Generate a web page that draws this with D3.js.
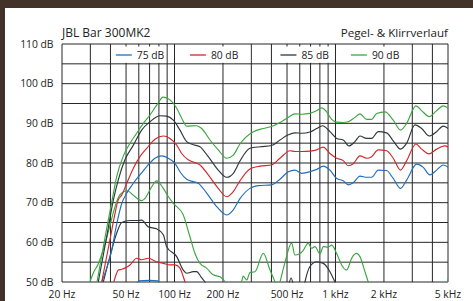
<!DOCTYPE html>
<html><head><meta charset="utf-8">
<script src="https://cdn.jsdelivr.net/npm/d3@7"></script>
<style>
html,body{margin:0;padding:0;background:#fff;}
svg{display:block;}
text{font-family:"Open Sans","Noto Sans",sans-serif;fill:#222;}
</style></head>
<body>
<svg id="chart" width="473" height="301"></svg>
<script>
// ---------- data ----------
const TITLE = "JBL Bar 300MK2";
const SUBTITLE = "Pegel- & Klirrverlauf";
const FREQ_GRID = [20,30,40,50,60,70,80,90,100,200,300,400,500,600,700,800,900,1000,2000,3000,4000,5000];
const FREQ_LABELS = [20,50,100,200,500,1000,2000,5000];
const DB_GRID = [50,55,60,65,70,75,80,85,90,95,100,105,110];
const DB_LABELS = [50,60,70,80,90,100,110];
const SERIES_NAMES = ["75 dB","80 dB","85 dB","90 dB"];
const SERIES_COLORS = ["#1f6fbd","#d3272b","#2e383d","#3ca642"];
// legend boxes (frequency spans of the white label cells)
const LEGEND_SPANS = [[40,90],[100,300],[400,1000],[1000,3000]];

// level response [Hz, dB]
const level75 = [[35.3,50],[37.9,53.5],[40.7,58],[43.7,64.5],[47,69.8],[50.5,72.4],[55.5,74.9],[61,77],[67.2,79.1],[75.6,81.2],[83.2,81.8],[91.5,81.2],[100.7,79.9],[108.1,77.8],[119,75.9],[130.8,75.3],[140.5,74.9],[158.4,72.4],[182.8,69],[210.9,66.9],[231.8,68.2],[255,71],[294,73.6],[331,74.3],[401,74.5],[452,75.9],[509,77.8],[560,78.2],[617,77.4],[694,77.8],[764,78.4],[840,79.2],[924,78.2],[1017,76.1],[1117,75.5],[1200,74.5],[1289,75],[1419,76.7],[1562,76.4],[1677,76.4],[1844,78.2],[2078,78.1],[2284,76.1],[2538,73.6],[2768,75.7],[3194,79.7],[3510,78.9],[3861,77],[4250,78.2],[4670,79.5],[5016,78.9]];
const level80 = [[35.3,50],[39.7,60.6],[42.7,67.3],[44.7,70.7],[47,71.9],[50.5,74.9],[55.5,78.7],[61,81.6],[67.2,83.7],[75.6,86],[85.2,86.8],[93.7,86.2],[103.2,84.5],[110.8,82.4],[121.8,80.8],[134,80.1],[143.9,79.5],[162.1,77],[187,73.6],[210.9,71.5],[231.8,72.8],[255,75.5],[294,78.5],[340,79.2],[401,79.5],[452,81.2],[522,83.1],[560,82.9],[617,82.9],[694,83],[764,83.3],[840,84],[924,82.4],[1017,81.2],[1117,80.6],[1200,79.3],[1289,79.8],[1419,81.8],[1562,81.2],[1677,81.6],[1844,83.3],[2078,83.1],[2284,81.2],[2538,78.2],[2768,80.6],[3162,84.8],[3430,83.5],[3822,82.3],[4250,83.5],[4786,84.3],[5016,84]];
const level85 = [[33.6,50],[37.9,61.4],[41.7,70.7],[44.7,75.7],[49.2,80.8],[55.5,84.5],[62.5,88.3],[70.4,90.4],[81.2,91.9],[89.4,91.8],[98.3,90.8],[108.1,88.3],[119,85.4],[134,84.5],[143.9,84.1],[162.1,81.6],[187,78.2],[210.9,76.4],[231.8,77.4],[255,80.5],[294,83.7],[340,84.1],[401,84.4],[452,85.8],[509,87.1],[560,87.6],[617,87.5],[694,87.8],[764,88.7],[832,89.4],[924,87.9],[1017,86.2],[1117,85.8],[1212,84.3],[1321,85.4],[1419,86.8],[1562,86.2],[1677,86.2],[1844,87.9],[2078,87.6],[2284,85.6],[2538,83.5],[2768,85],[3116,89.6],[3430,88.7],[3822,86.8],[4250,87.9],[4670,89.3],[5016,88.7]];
const level90 = [[33,50],[37.9,63.5],[40.7,70],[43.7,76.5],[48.1,81.8],[52.9,85],[58.2,87.5],[64,90],[70.4,92.1],[77.5,94.6],[85.2,96.6],[93.7,95.9],[103.2,93.8],[110.8,91.3],[119,89.3],[137.3,89.4],[147.5,88.7],[166.1,85.8],[187,83.3],[210.9,81.2],[231.8,82],[255,84.8],[309,87.9],[356,88.7],[401,89.2],[452,90.2],[509,91.5],[560,92.4],[617,92.3],[694,92.5],[764,93.2],[820,93.9],[881,92.9],[947,91],[1017,90.3],[1117,90.2],[1200,90.4],[1321,91.5],[1419,92.4],[1562,91],[1677,91],[1802,92.5],[2029,92.9],[2284,90.8],[2538,88.3],[2768,90],[3162,94.4],[3430,93.2],[3822,91.7],[4250,93.2],[4670,94.4],[5016,93.8]];

// distortion [Hz, dB] (values under 50 dB fall outside the plot)
const dist75 = [[57,48],[60,50.3],[70,50.4],[79,50.3],[82,48]];
const dist80 = [[42,50],[43.5,52],[44.7,53],[47,53.2],[49.2,53.5],[52.9,54.3],[58.2,56],[62.5,55.6],[68.7,56],[77.5,55.1],[85.2,54.7],[93.7,54.3],[100.7,54.3],[108.1,53.5],[113,51.5],[116.2,50],[120,48]];
const dist85 = [[36.1,50],[39.7,56.4],[43.7,62.3],[47,65],[52.9,65.5],[58.2,65.5],[62.5,65.6],[68.7,63.9],[77.5,63.4],[85.2,61.9],[89.4,58.9],[103.2,56.4],[113.4,53],[119,52.2],[130.8,52.6],[137.3,52.6],[146,51.3],[154.6,50],[165,48],[500,48],[530,51],[560,48],[631,48],[646,50],[694,53.9],[764,55.1],[840,54.7],[924,52.6],[992,50],[1050,48]];
const dist90 = [[29.8,50],[31.5,52.5],[33.5,54.5],[36,58],[39,63],[42,68],[45,71.5],[48,72.7],[51,73],[55,72],[59,71],[62.5,70.5],[66,71.2],[71,73.5],[77.5,75.5],[84,74],[90,72],[98.3,69.8],[113,67],[124.7,61.4],[134,57.2],[144,54.7],[158,53.5],[174,51.8],[191.6,51.3],[205.8,50],[215,48],[245,48],[261,50],[267,51.5],[281,50.5],[294,52.4],[316,52.6],[356,57.2],[392,53],[421,50],[437,48],[452,50],[485,54.9],[534,59.8],[560,56.8],[602,57.2],[631,58],[677,59.8],[711,58.5],[746,58.9],[801,57.1],[840,58.9],[902,58.8],[947,59.3],[1017,57.2],[1092,54.3],[1173,53],[1260,56],[1353,57.2],[1419,56.4],[1524,52.6],[1598,50],[1700,46],[4500,46],[5016,50.8]];

const LEVELS = [level75, level80, level85, level90];
const DISTS = [dist75, dist80, dist85, dist90];

// ---------- layout ----------
const W = 473, H = 301;
const plot = {left: 62, right: 448, top: 44, bottom: 282};
const svg = d3.select("#chart");

svg.append("rect").attr("x",0).attr("y",0).attr("width",W).attr("height",H).attr("fill","#42322a");
svg.append("rect").attr("x",5).attr("y",8).attr("width",W-5).attr("height",H-8).attr("fill","#ffffff");

const x = d3.scaleLog().domain([20,5000]).range([plot.left, plot.right]);
const y = d3.scaleLinear().domain([50,110]).range([plot.bottom, plot.top]);

// grid
const grid = svg.append("g").attr("stroke","#262626").attr("stroke-width",1).attr("fill","none");
grid.selectAll("line.h").data(DB_GRID).join("line")
  .attr("x1",plot.left).attr("x2",plot.right)
  .attr("y1",d=>y(d)).attr("y2",d=>y(d));
grid.selectAll("line.v").data(FREQ_GRID).join("line")
  .attr("x1",d=>x(d)).attr("x2",d=>x(d))
  .attr("y1",plot.top).attr("y2",plot.bottom);

// legend cells
const legend = svg.append("g");
legend.selectAll("rect").data(LEGEND_SPANS).join("rect")
  .attr("x",d=>x(d[0])+1).attr("width",d=>x(d[1])-x(d[0])-2)
  .attr("y",plot.top+2.5).attr("height",y(105)-plot.top-3.5)
  .attr("fill","#fff");
const lg = legend.selectAll("g.item").data(LEGEND_SPANS).join("g")
  .attr("transform",(d)=>`translate(${(x(d[0])+x(d[1]))/2},0)`);
lg.append("line")
  .attr("x1",-23).attr("x2",-7).attr("y1",55).attr("y2",55)
  .attr("stroke",(d,i)=>SERIES_COLORS[i]).attr("stroke-width",1.3);
lg.append("text").attr("x",-2).attr("y",59)
  .attr("font-size","10.3px").text((d,i)=>SERIES_NAMES[i]);

// curves
svg.append("clipPath").attr("id","clip").append("rect")
  .attr("x",plot.left).attr("y",plot.top).attr("width",plot.right-plot.left).attr("height",plot.bottom-plot.top+0.6);
const line = d3.line().x(d=>x(d[0])).y(d=>y(d[1])).curve(d3.curveMonotoneX);
const curves = svg.append("g").attr("clip-path","url(#clip)").attr("fill","none").attr("stroke-width",1.15);
DISTS.forEach((s,i)=>curves.append("path").attr("d",line(s)).attr("stroke",SERIES_COLORS[i]));
LEVELS.forEach((s,i)=>curves.append("path").attr("d",line(s)).attr("stroke",SERIES_COLORS[i]));

// axis labels
svg.append("g").selectAll("text").data(DB_LABELS).join("text")
  .attr("x",53.5).attr("y",d=>y(d)+3.7).attr("text-anchor","end")
  .attr("font-size","10.3px").text(d=>d+" dB");
const fmtHz = d => d>=1000 ? (d/1000)+" kHz" : d+" Hz";
svg.append("g").selectAll("text").data(FREQ_LABELS).join("text")
  .attr("x",d=>x(d)).attr("y",298).attr("text-anchor","middle")
  .attr("font-size","10.3px").text(fmtHz);

// titles
svg.append("text").attr("x",plot.left).attr("y",36.5).attr("font-size","12px").text(TITLE);
svg.append("text").attr("x",plot.right).attr("y",36.5).attr("text-anchor","end").attr("font-size","11.6px").text(SUBTITLE);
</script>
</body></html>
